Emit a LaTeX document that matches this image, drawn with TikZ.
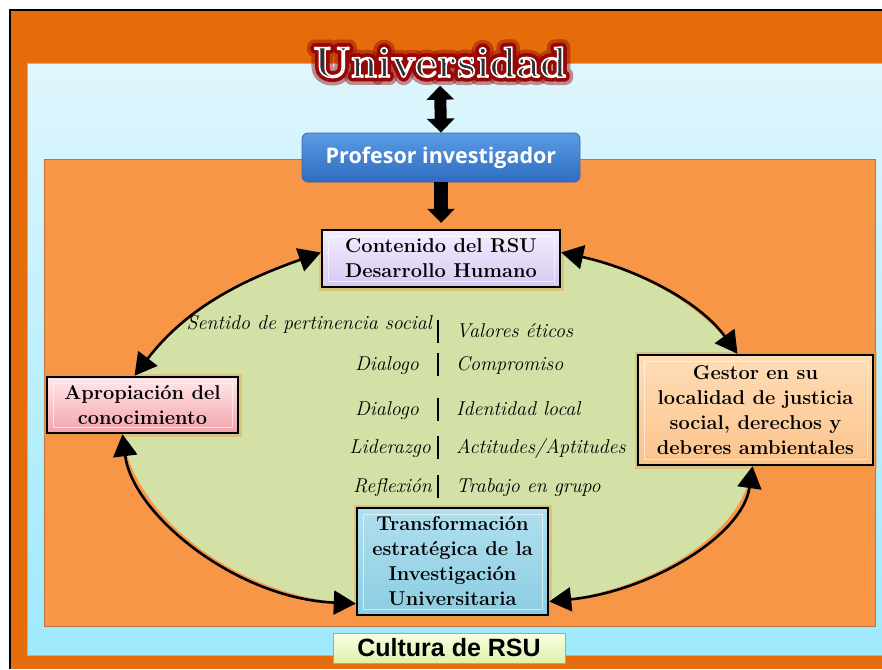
\documentclass[tikz,border=0pt]{standalone}
\usepackage{fontspec}
\newfontfamily\ProfesorFont{Open Sans}
\newfontfamily\CulturaFont{Liberation Sans}
\usepackage{tikz}
\usepackage{xcolor}
\usetikzlibrary{backgrounds}
\usetikzlibrary{arrows.meta,positioning,calc}
\definecolor{OuterFrameColour}{HTML}{E46C0A}
\definecolor{SkyTopColour}{HTML}{DFF6FD}
\definecolor{SkyBottomColour}{HTML}{9EE9FC}
\definecolor{SkyEdgeColour}{HTML}{78C8DE}
\definecolor{InnerFrameColour}{HTML}{F79646}
\definecolor{InnerEdgeColour}{HTML}{C0733A}
\definecolor{CycleColour}{HTML}{D3E1A7}
\definecolor{BoxGlowColour}{HTML}{E49A3C}
\definecolor{TitleGlowColour}{HTML}{960808}
\definecolor{TitleInkColour}{HTML}{303030}
\definecolor{ProfesorTop}{HTML}{5B9BE3}
\definecolor{ProfesorBottom}{HTML}{2F6CC0}
\definecolor{ProfesorEdge}{HTML}{3A6AA8}
\definecolor{ContenidoTop}{HTML}{F4EEFF}
\definecolor{ContenidoBottom}{HTML}{D8C8F2}
\definecolor{ApropiacionTop}{HTML}{FFE8EA}
\definecolor{ApropiacionBottom}{HTML}{F3A3AC}
\definecolor{GestorTop}{HTML}{FFDDB8}
\definecolor{GestorBottom}{HTML}{FBC38B}
\definecolor{TransformacionTop}{HTML}{B0DFEE}
\definecolor{TransformacionBottom}{HTML}{8CCDE2}
\definecolor{CulturaTop}{HTML}{F8FFE3}
\definecolor{CulturaBottom}{HTML}{DDF2A9}
\definecolor{CulturaEdge}{HTML}{9BBB59}
% stroked text for the title
\newcommand{\StrokedText}[2]{\special{pdf:literal direct 2 Tr #1 w 1 j}#2\special{pdf:literal direct 0 Tr}}
\tikzstyle{TitleText}=[anchor=base,inner sep=0pt,font=\fontsize{43}{50}\selectfont\bfseries]
\tikzstyle{CycleBox}=[rectangle,draw=black,line width=2.4pt,align=center,inner sep=4pt,
  font=\fontsize{20}{25}\selectfont\bfseries,
  preaction={draw=BoxGlowColour,line width=7pt,opacity=.4},
  path picture={\draw[white,opacity=.6,line width=.8pt]
    ([shift={(6pt,6pt)}]path picture bounding box.south west) rectangle
    ([shift={(-6pt,-6pt)}]path picture bounding box.north east);}]
\tikzstyle{ContenidoState}=[CycleBox,top color=ContenidoTop,bottom color=ContenidoBottom]
\tikzstyle{ApropiacionState}=[CycleBox,top color=ApropiacionTop,bottom color=ApropiacionBottom]
\tikzstyle{GestorState}=[CycleBox,top color=GestorTop,bottom color=GestorBottom]
\tikzstyle{TransformacionState}=[CycleBox,top color=TransformacionTop,bottom color=TransformacionBottom]
\tikzstyle{ProfesorState}=[rectangle,rounded corners=6pt,draw=ProfesorEdge,line width=.8pt,
  top color=ProfesorTop,bottom color=ProfesorBottom,text=white,
  font=\ProfesorFont\fontsize{21.5}{26}\selectfont\bfseries]
\tikzstyle{CulturaState}=[rectangle,draw=CulturaEdge,line width=.8pt,
  top color=CulturaTop,bottom color=CulturaBottom,
  font=\CulturaFont\fontsize{25}{28}\selectfont\bfseries]
\tikzstyle{ListText}=[inner sep=0pt,font=\fontsize{20}{22}\selectfont\itshape]
\tikzstyle{ListBar}=[line width=1.2pt]
\tikzstyle{BlockArrow}=[line width=14pt,-{Triangle[width=27pt,length=14pt]}]
\tikzstyle{TwoWayBlockArrow}=[line width=12pt,{Triangle[width=27pt,length=14pt]}-{Triangle[width=27pt,length=14pt]}]
\tikzstyle{CycleArrow}=[line width=2.6pt,{Triangle[length=22pt,width=24pt]}-{Triangle[length=22pt,width=24pt]}]

\begin{document}
\begin{tikzpicture}[x=1pt,y=-1pt]
  \useasboundingbox (0,0) rectangle (882,669);

  % title with its red glow
  \coordinate (TitleBase) at (440,77);
  \node[TitleText,text=TitleGlowColour,opacity=.45](UniversidadHalo) at (TitleBase){\StrokedText{16}{Universidad}};
  \node[TitleText,text=TitleGlowColour](UniversidadGlow) at (TitleBase){\StrokedText{9}{Universidad}};
  \node[TitleText,text=TitleInkColour,inner ysep=8pt](Universidad) at (TitleBase){\special{pdf:literal direct 1 1 1 RG}\StrokedText{1.6}{Universidad}};

  \node[ProfesorState,minimum width=278pt,minimum height=49pt](Profesor) at (441,157.5){Profesor investigador};

  \node[ContenidoState,minimum width=238pt,minimum height=57pt](Contenido) at (441,258.5){Contenido del RSU\\Desarrollo Humano};
  \node[ApropiacionState,minimum width=191pt,minimum height=56pt](Apropiacion) at (142.5,405){Apropiación del\\conocimiento};
  \node[GestorState,minimum width=235pt,minimum height=110pt](Gestor) at (755.5,410){Gestor en su\\localidad de justicia\\social, derechos y\\deberes ambientales};
  \node[TransformacionState,minimum width=191pt,minimum height=107pt](Transformacion) at (452.5,561.5){Transformación\\estratégica de la\\Investigación\\Universitaria};

  \node[CulturaState,minimum width=232pt,minimum height=30pt](Cultura) at (449,648){Cultura de RSU};

  \draw[TwoWayBlockArrow] (Universidad.south) -- (Profesor.north);
  \draw[BlockArrow,shorten >=6pt] (Profesor.south) -- (Contenido.north);

  % the cycle
  \draw[CycleArrow] ([xshift=-8pt]Apropiacion.north) .. controls +(50,-65) and +(-85,30) .. ([yshift=6pt]Contenido.west);
  \draw[CycleArrow] ([yshift=6pt]Contenido.east) .. controls +(70,15) and +(-40,-55) .. ([xshift=-18pt]Gestor.north);
  \draw[CycleArrow] ([xshift=-3pt]Gestor.south) .. controls +(-10,70) and +(100,-10) .. ([yshift=-40pt]Transformacion.east);
  \draw[CycleArrow] ([xshift=-20pt]Apropiacion.south) .. controls +(10,80) and +(-120,-5) .. ([yshift=-42pt]Transformacion.west);

  \foreach \LeftText/\LeftX/\LeftBase/\RightText/\RightBase [count=\Row] in {
      Sentido de pertinencia social/432/329/Valores éticos/337,
      Dialogo/419/370/Compromiso/370,
      Dialogo/419/415/Identidad local/415,
      Liderazgo/431/453/Actitudes\slash Aptitudes/453,
      Reflexión/432/492/Trabajo en grupo/492}{
    \node[ListText,anchor=base east](LeftItem\Row) at (\LeftX,\LeftBase){\LeftText};
    \node[ListText,anchor=base west](RightItem\Row) at (456,\RightBase){\RightText};
    \draw[ListBar] (438,\RightBase-17) -- (438,\RightBase+6);
  }

  \begin{scope}[on background layer]
    \fill[white] (0,0) rectangle (882,669);
    \fill[OuterFrameColour] (10,10) rectangle (882,669);
    \draw[black,line width=1.5pt] (10,669) -- (10,10) -- (882,10);
    \shade[top color=SkyTopColour,bottom color=SkyBottomColour,draw=SkyEdgeColour] (27,63) rectangle (882,655);
    \filldraw[fill=InnerFrameColour,draw=InnerEdgeColour,line width=1pt] (44,159) rectangle (875,626);
    \fill[CycleColour] ([xshift=-8pt]Apropiacion.north) .. controls +(50,-65) and +(-85,30) .. ([yshift=6pt]Contenido.west)
      -- ([yshift=6pt]Contenido.east) .. controls +(70,15) and +(-40,-55) .. ([xshift=-18pt]Gestor.north)
      -- ([xshift=-3pt]Gestor.south) .. controls +(-10,70) and +(100,-10) .. ([yshift=-40pt]Transformacion.east)
      -- ([yshift=-42pt]Transformacion.west) .. controls +(-120,-5) and +(10,80) .. ([xshift=-20pt]Apropiacion.south)
      -- cycle;
  \end{scope}
\end{tikzpicture}
\end{document}
